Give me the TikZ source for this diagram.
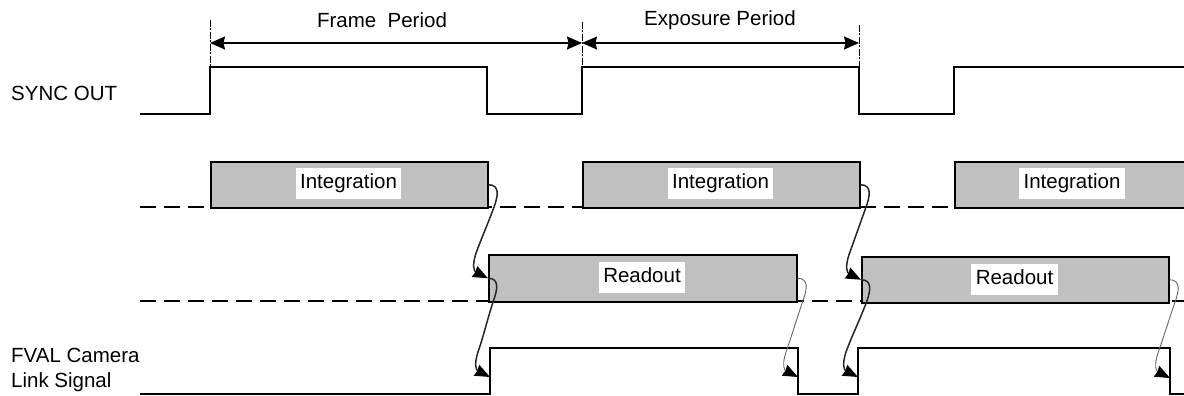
\documentclass[tikz,border=0pt]{standalone}
\usepackage{fontspec}
\setmainfont{Liberation Sans}
\usetikzlibrary{arrows.meta,calc}
\tikzset{
  txt/.style={font=\fontsize{20.5}{25}\selectfont, inner sep=0pt},
  lbl/.style={font=\fontsize{20.5}{25}\selectfont, fill=white, inner xsep=4.5pt, inner ysep=0pt, text height=21pt, text depth=10pt},
  sig/.style={line width=1.5pt, line join=miter},
  box/.style={draw, line width=1.5pt, fill=boxgray, inner sep=0pt, anchor=north west},
  base/.style={line width=1.2pt, dash pattern=on 15.5pt off 8.5pt},
  marker/.style={line width=1pt, dash pattern=on 7pt off 1.5pt on 2pt off 1.5pt},
  period/.style={line width=1.4pt, {Stealth[length=15pt,width=13pt,inset=1.5pt]}-{Stealth[length=15pt,width=13pt,inset=1.5pt]}},
  curly/.style={to path={.. controls +(12,0) and +(3,-9) .. ($(\tikztostart)+(6,21)$) .. controls +(-5,14) and +(5,-14) .. ($(\tikztotarget)+(-12,-25)$) .. controls +(-4,12) and +(-14,-7) .. (\tikztotarget)}},
  curlythick/.style={curly, line width=1.5pt, draw=black!85, -{Stealth[length=15pt,width=12pt,inset=1pt,fill=black,color=black]}},
  curlythin/.style={curly, line width=0.9pt, draw=black!60, -{Stealth[length=15pt,width=12pt,inset=1pt,fill=black,color=black]}}
}
\definecolor{boxgray}{RGB}{192,192,192}
\begin{document}
\begin{tikzpicture}[x=1pt,y=-1pt]
\fill[white] (0,0) rectangle (1184,396);
\useasboundingbox (0,0) rectangle (1184,396);

% labels on the left
\node[txt, anchor=west] (sync) at (11,93) {SYNC OUT};
\node[txt, anchor=west, align=left] (fval) at (11,369.5) {FVAL Camera\\Link Signal};

% period markers
\coordinate (m1t) at (210,20);  \coordinate (m1b) at (210,67);
\coordinate (m2t) at (582,22);  \coordinate (m2b) at (582,67);
\coordinate (m3t) at (859,25);  \coordinate (m3b) at (859,67);
\draw[marker] (m1t) -- (m1b);
\draw[marker] (m2t) -- (m2b);
\draw[marker] (m3t) -- (m3b);
\coordinate (a1) at (210,43); \coordinate (a2) at (582,43); \coordinate (a3) at (859,43);
\draw[period] (a1) -- (a2);
\draw[period] (a2) -- (a3);
\node[txt] (fp) at (382,20) {Frame\ \ Period};
\node[txt] (ep) at (720,20) {Exposure Period};

% SYNC OUT signal
\draw[sig] (140,114) -| (210,67) -| (487,114) -| (582,67) -| (859,114) -| (954,67) -- (1192,67);

% dashed baselines
\draw[base] (140,207) -- (1192,207);
\draw[base] (140,301) -- (1192,301);

% Integration boxes
\node[box, minimum width=277pt, minimum height=46pt] (i1) at (210,161) {};
\node[box, minimum width=277pt, minimum height=46pt] (i2) at (582,161) {};
\node[box, minimum width=236pt, minimum height=46pt] (i3) at (954,161) {};
\node[lbl] (ti1) at (348.5,183) {Integration};
\node[lbl] (ti2) at (720.5,183) {Integration};
\node[lbl] (ti3) at (1072,183) {Integration};

% Readout boxes
\node[box, minimum width=308pt, minimum height=47pt] (r1) at (488,254) {};
\node[box, minimum width=307pt, minimum height=46pt] (r2) at (861,256) {};
\node[lbl] (tr1) at (642,277) {Readout};
\node[lbl] (tr2) at (1014.5,279) {Readout};

% FVAL signal
\draw[sig] (140,394) -| (490,348) -| (798,394) -| (858,348) -| (1170,394) -- (1192,394);
\coordinate (f1) at (490,377);
\coordinate (f2) at (798,377);
\coordinate (f3) at (858,377);
\coordinate (f4) at (1170,378);

% curly arrows
\draw[curlythick] (i1.east) to (r1.west);
\draw[curlythick] (r1.west) to (f1);
\draw[curlythin] (r1.east) to (f2);
\draw[curlythick] (i2.east) to (r2.west);
\draw[curlythick] (r2.west) to (f3);
\draw[curlythin] (r2.east) to (f4);
\end{tikzpicture}
\end{document}
